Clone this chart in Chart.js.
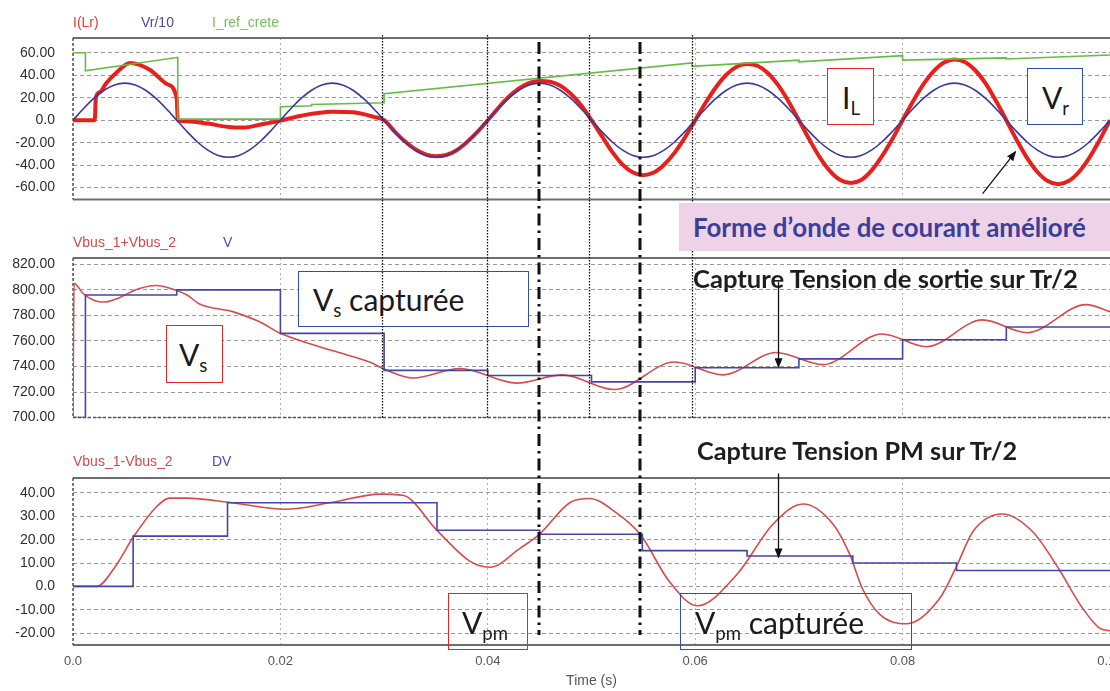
<!DOCTYPE html>
<html>
<head>
<meta charset="utf-8">
<script src="https://cdn.jsdelivr.net/npm/chart.js@4.4.1/dist/chart.umd.min.js"></script>
<style>
  html, body { margin: 0; padding: 0; background: #fff; }
  body { width: 1110px; height: 691px; overflow: hidden; position: relative; font-family: "Liberation Sans", Arial, sans-serif; }
  canvas { position: absolute; left: 0; z-index: 0; }
  .lg { position: absolute; font-size: 14px; line-height: 16px; white-space: nowrap; z-index: 1; }
  .box { position: absolute; box-sizing: border-box; background: #fff; border: 1.5px solid; display: flex; align-items: center;
         font-family: Lato, "Open Sans", sans-serif; font-size: 30px; color: #1a1a1a; white-space: nowrap; z-index: 2; }
  .box.clear { background: transparent; }
  .box .t { display: inline-block; line-height: 1; }
  .box sub { font-size: 0.62em; vertical-align: -0.32em; line-height: 0; }
  .red { border-color: #e8262a; }
  .blue { border-color: #2f4fa8; }
  #ovl { position: absolute; left: 0; top: 0; z-index: 3; pointer-events: none; }
  #pink { position: absolute; left: 679px; top: 203px; width: 460px; height: 48px; background: #eed3e8; z-index: 4;
          display: flex; align-items: center; }
  .note { position: absolute; display: flex; align-items: center; z-index: 5; }
  .note span, #pink span { font-family: Lato, "Open Sans", sans-serif; font-weight: 700; white-space: nowrap; font-size: 20px; }
</style>
</head>
<body>

<canvas id="c1" width="1140" height="226" style="top:0px"></canvas>
<canvas id="c2" width="1140" height="218" style="top:226px"></canvas>
<canvas id="c3" width="1140" height="247" style="top:444px"></canvas>

<div class="lg" style="left:73px; top:14px; color:#d9403a">I(Lr)</div>
<div class="lg" style="left:141px; top:14px; color:#4a4aa5">Vr/10</div>
<div class="lg" style="left:212px; top:14px; color:#74c25a">I_ref_crete</div>
<div class="lg" style="left:73px; top:234px; color:#d34a4a">Vbus_1+Vbus_2</div>
<div class="lg" style="left:223px; top:234px; color:#4b4bb0">V</div>
<div class="lg" style="left:73px; top:453px; color:#d34a4a">Vbus_1-Vbus_2</div>
<div class="lg" style="left:212px; top:453px; color:#4b4bb0">DV</div>

<div class="box red" style="left:827px; top:68px; width:47px; height:57px; padding-left:14px"><span class="t">I<sub>L</sub></span></div>
<div class="box blue" style="left:1027px; top:68px; width:56px; height:57px; padding-left:14px"><span class="t">V<sub>r</sub></span></div>
<div class="box blue" style="left:298px; top:271px; width:231px; height:56px; padding-left:14px"><span class="t">V<sub>s</sub> capturée</span></div>
<div class="box red" style="left:166px; top:325px; width:57px; height:58px; padding-left:12px"><span class="t">V<sub>s</sub></span></div>
<div class="box red clear" style="left:448px; top:593px; width:80px; height:57px; padding-left:13px"><span class="t">V<sub>pm</sub></span></div>
<div class="box blue clear" style="left:680px; top:593px; width:232px; height:57px; padding-left:14px"><span class="t">V<sub>pm</sub> capturée</span></div>

<svg id="ovl" width="1110" height="691" xmlns="http://www.w3.org/2000/svg">
  <defs>
    <marker id="ah" markerWidth="10" markerHeight="8" refX="9" refY="4" orient="auto" markerUnits="userSpaceOnUse">
      <path d="M0,0 L10,4 L0,8 z" fill="#111"></path>
    </marker>
  </defs>
</svg>

<div id="pink"><span data-w="393" style="margin-left:14px; color:#3b3f9a">Forme d’onde de courant amélioré</span></div>
<div class="note" style="left:693px; top:264px; height:28px"><span data-w="385" style="color:#1e1e1e">Capture Tension de sortie sur Tr/2</span></div>
<div class="note" style="left:697px; top:436px; height:28px"><span data-w="320" style="color:#1e1e1e">Capture Tension PM sur Tr/2</span></div>

<script>
// ---- panel 1 : I(Lr), Vr/10, I_ref_crete ----
const tIL = [0, 0.0021, 0.0022, 0.0026, 0.0032, 0.0042, 0.0055, 0.0074, 0.0091, 0.0100, 0.0101,
  0.011, 0.013, 0.015, 0.0165, 0.018, 0.0195, 0.0202, 0.022, 0.025, 0.027, 0.029, 0.030,
  0.031, 0.032, 0.033, 0.034, 0.035, 0.036, 0.037, 0.038, 0.039, 0.040,
  0.041, 0.042, 0.043, 0.044, 0.045, 0.046, 0.047, 0.048, 0.049, 0.050,
  0.051, 0.052, 0.053, 0.054, 0.055, 0.056, 0.057, 0.058, 0.059, 0.060,
  0.061, 0.062, 0.063, 0.064, 0.065, 0.066, 0.067, 0.068, 0.069, 0.070,
  0.071, 0.072, 0.073, 0.074, 0.075, 0.076, 0.077, 0.078, 0.079, 0.080,
  0.081, 0.082, 0.083, 0.084, 0.085, 0.086, 0.087, 0.088, 0.089, 0.090,
  0.091, 0.092, 0.093, 0.094, 0.095, 0.096, 0.097, 0.098, 0.099, 0.100];
const iL = [0, 0, 20, 25, 33, 42.5, 51, 45, 32, 19.5, 0,
  -1, -3, -6, -6.5, -4, -1.5, 0, 4, 7.5, 7, 3, 0,
  -9.9, -18.8, -25.9, -30.4, -32, -31, -26.7, -19.4, -10.5, 0,
  10.8, 20.6, 28.3, 33.3, 35, 34.2, 30.7, 23.5, 13.3, 0,
  -14.2, -28.2, -39.6, -46.6, -49, -46.6, -39.6, -29.1, -15.5, 0,
  15.5, 29.4, 40.5, 47.6, 50, 48.5, 42.1, 31.2, 16.7, 0,
  -17, -32.9, -45.3, -53.3, -56, -53.3, -44.9, -32.3, -17, 0,
  16.7, 31.8, 43.7, 51.4, 54, 51.8, 44.5, 32.9, 17.3, 0,
  -17.6, -33.5, -46.1, -54.2, -57, -54.2, -46.1, -33.5, -17.6, 0];

// Vr/10 sampled every 1 ms
const vr10 = [0, 10.2, 19.4, 26.7, 31.4, 33, 31.4, 26.7, 19.4, 10.2, 0, -10.2, -19.4, -26.7, -31.4, -33, -31.4, -26.7, -19.4, -10.2,
  0, 10.2, 19.4, 26.7, 31.4, 33, 31.4, 26.7, 19.4, 10.2, 0, -10.2, -19.4, -26.7, -31.4, -33, -31.4, -26.7, -19.4, -10.2,
  0, 10.2, 19.4, 26.7, 31.4, 33, 31.4, 26.7, 19.4, 10.2, 0, -10.2, -19.4, -26.7, -31.4, -33, -31.4, -26.7, -19.4, -10.2,
  0, 10.2, 19.4, 26.7, 31.4, 33, 31.4, 26.7, 19.4, 10.2, 0, -10.2, -19.4, -26.7, -31.4, -33, -31.4, -26.7, -19.4, -10.2,
  0, 10.2, 19.4, 26.7, 31.4, 33, 31.4, 26.7, 19.4, 10.2, 0, -10.2, -19.4, -26.7, -31.4, -33, -31.4, -26.7, -19.4, -10.2,
  0];

const tRef = [0, 0.0012, 0.0012, 0.0101, 0.0101, 0.02, 0.02, 0.023, 0.023, 0.03, 0.03, 0.0597, 0.0597,
  0.07, 0.07, 0.08, 0.08, 0.09, 0.09, 0.1];
const iRef = [60, 60, 44, 56, 1, 1, 12, 12.8, 14, 15.5, 23.5, 51, 48, 53.5, 52, 57.5, 53.5, 55.5, 54.5, 58];

// ---- panel 2 : Vbus_1+Vbus_2, V ----
const tVs = [0, 0.0001, 0.001, 0.002, 0.003, 0.0045, 0.006, 0.008, 0.0095, 0.011, 0.0122, 0.0154, 0.018, 0.02,
  0.025, 0.0286, 0.030, 0.0328, 0.0373, 0.0428, 0.0472, 0.0522, 0.058, 0.0627, 0.0678, 0.0723, 0.078, 0.0823,
  0.0877, 0.092, 0.0977, 0.1];
const vs = [700, 805, 797, 792, 790.5, 794, 800, 803.5, 801, 796, 789, 783, 775, 766,
  752.5, 743.5, 738, 731, 738.5, 727, 733.5, 722, 743.5, 733.5, 751, 741.5, 765.5, 755.5,
  776.5, 766.5, 788.5, 783];
const tV = [0, 0.0012, 0.01, 0.02, 0.03, 0.04, 0.05, 0.06, 0.07, 0.08, 0.09, 0.1];
const vCap = [700, 796, 800, 766, 737, 733, 728, 739, 746, 761, 771, 771];

// ---- panel 3 : Vbus_1-Vbus_2, DV ----
const tPm = [0, 0.0023, 0.004, 0.0058, 0.0081, 0.0093, 0.011, 0.015, 0.0205, 0.025, 0.0296, 0.0318, 0.0351,
  0.0383, 0.0402, 0.0431, 0.045, 0.0479, 0.0498, 0.0524, 0.0547, 0.0575, 0.0602, 0.064, 0.0675, 0.0704,
  0.0733, 0.0749, 0.0761, 0.0778, 0.0804, 0.0836, 0.0852, 0.0868, 0.0896, 0.0925, 0.0951, 0.0971, 0.099, 0.1];
const vPm = [0, 0, 8, 21, 34.3, 37.8, 37.8, 36, 33, 36, 39.5, 39, 24,
  10.7, 8.2, 16.3, 22.4, 35.8, 37.6, 31.5, 22.3, 2.1, -8.3, 5, 26.6, 35.3,
  26.6, 13.7, -0.7, -12, -16, -5, 8.6, 23.6, 31, 23.6, 7.2, -7.7, -17.9, -19];
const tDV = [0, 0.0058, 0.0149, 0.0351, 0.045, 0.0549, 0.065, 0.0752, 0.0852, 0.1];
const vDV = [0, 21.5, 35.8, 24, 22.3, 15.3, 13, 10, 6.8, 6.8];

// capture instants (dotted) and PM capture instants (dash-dot)
const capT = [0.0298, 0.0399, 0.0498, 0.0597];
const pmT = [0.0449, 0.0547];

const pts = (ts, vals) => ts.map((t, i) => ({ x: t, y: vals[i] }));
const tMs = vr10.map((_, i) => i / 1000);

const framePlugin = {
  id: 'frame',
  beforeDatasetsDraw(chart, args, opts) {
    const { ctx, chartArea: a } = chart;
    ctx.save();
    ctx.strokeStyle = '#6e6e6e';
    ctx.lineWidth = 2;
    ctx.beginPath();
    ctx.moveTo(a.left, a.top); ctx.lineTo(a.right, a.top);
    if (!opts.dashedBottom) { ctx.moveTo(a.left, a.bottom); ctx.lineTo(a.right, a.bottom); }
    ctx.stroke();
    ctx.strokeStyle = '#555';
    ctx.lineWidth = 1.5;
    ctx.setLineDash([3, 2]);
    ctx.beginPath();
    ctx.moveTo(a.left, a.top); ctx.lineTo(a.left, a.bottom);
    if (opts.dashedBottom) { ctx.moveTo(a.left, a.bottom); ctx.lineTo(a.right, a.bottom); }
    ctx.stroke();
    ctx.restore();
  }
};

const xFont = { family: '"Liberation Sans", Arial, sans-serif', size: 13 };
const yFont = { family: '"Liberation Sans", Arial, sans-serif', size: 14 };

function panel(id, datasets, o) {
  return new Chart(document.getElementById(id), {
    type: 'line',
    data: { datasets },
    options: {
      responsive: false,
      animation: false,
      devicePixelRatio: 1,
      layout: { padding: { top: o.top, bottom: o.bottom, left: 0, right: 30 } },
      elements: { point: { radius: 0 } },
      plugins: { legend: { display: false }, tooltip: { enabled: false }, frame: { dashedBottom: !!o.dashedBottom } },
      scales: {
        x: {
          type: 'linear', min: 0, max: 0.1,
          ticks: {
            display: !!o.xLabels, stepSize: 0.02, padding: 9, color: '#555', font: xFont,
            callback: v => Math.abs(v) < 1e-9 ? '0.0' : v.toFixed(2)
          },
          title: { display: !!o.xLabels, text: 'Time (s)', color: '#555', font: yFont, padding: { top: 0, bottom: 1 } },
          grid: { color: '#b0b0b0', lineWidth: 1, drawTicks: false },
          border: { display: false, dash: [2, 3] },
          afterFit(s) { s.height = o.xLabels ? 46 : 0; }
        },
        y: {
          min: o.min, max: o.max,
          ticks: {
            stepSize: o.step, includeBounds: false, padding: 18, color: '#2e2e2e', font: yFont,
            callback: v => v === 0 ? '0.0' : v.toFixed(2)
          },
          grid: { color: '#999', lineWidth: 1, drawTicks: false },
          border: { display: false, dash: [4, 3] },
          afterFit(s) { s.width = 73; }
        }
      }
    },
    plugins: [framePlugin]
  });
}

const c1 = panel('c1', [
  { data: pts(tMs, vr10), borderColor: '#3a3aa0', borderWidth: 1.6, cubicInterpolationMode: 'monotone' },
  { data: pts(tRef, iRef), borderColor: '#66bb44', borderWidth: 1.6 },
  { data: pts(tIL, iL), borderColor: '#e8201c', borderWidth: 4, cubicInterpolationMode: 'monotone' }
], { top: 38, bottom: 13, min: -70.7, max: 73.2, step: 20 });

const c2 = panel('c2', [
  { data: pts(tV, vCap), borderColor: '#4545a5', borderWidth: 1.6, stepped: true },
  { data: pts(tVs, vs), borderColor: '#d84b4b', borderWidth: 1.6, cubicInterpolationMode: 'monotone' }
], { top: 32, bottom: 11, min: 700, max: 825, step: 20, dashedBottom: true });

const c3 = panel('c3', [
  { data: pts(tDV, vDV), borderColor: '#4545a5', borderWidth: 1.6, stepped: true },
  { data: pts(tPm, vPm), borderColor: '#d84b4b', borderWidth: 1.6, cubicInterpolationMode: 'monotone' }
], { top: 34, bottom: 0, min: -25.1, max: 46.4, step: 10, xLabels: true });

// ---- overlay: capture markers and arrows ----
const svg = document.getElementById('ovl');
const NS = 'http://www.w3.org/2000/svg';
const X = t => c1.scales.x.getPixelForValue(t);
const Y = (c, off, v) => off + c.scales.y.getPixelForValue(v);

function line(x1, y1, x2, y2, attrs) {
  const l = document.createElementNS(NS, 'line');
  l.setAttribute('x1', x1); l.setAttribute('y1', y1);
  l.setAttribute('x2', x2); l.setAttribute('y2', y2);
  for (const k in attrs) l.setAttribute(k, attrs[k]);
  svg.appendChild(l);
}

capT.forEach(t => {
  const x = Math.round(X(t)) + 0.5;
  line(x, c1.chartArea.top - 3, x, 226 + c2.chartArea.bottom,
    { stroke: '#111', 'stroke-width': 1.3, 'stroke-dasharray': '1.5 1.5' });
});
pmT.forEach(t => {
  const x = Math.round(X(t));
  line(x, c1.chartArea.top + 4, x, 444 + c3.chartArea.bottom - 10,
    { stroke: '#111', 'stroke-width': 3, 'stroke-dasharray': '12 5 2.5 5' });
});

const arrow = { stroke: '#111', 'stroke-width': 1.3, 'marker-end': 'url(#ah)' };
let ax = X(0.0909), ay = Y(c1, 0, -28);
line(ax - 33, ay + 42, ax, ay, arrow);
ax = Math.round(X(0.068)) + 0.5; ay = Y(c2, 226, 739.5);
line(ax, ay - 85, ax, ay, arrow);
ay = Y(c3, 444, 12.4);
line(ax, ay - 84, ax, ay, arrow);

// fit the bold notes to their measured widths
document.querySelectorAll('span[data-w]').forEach(el => {
  const w = el.getBoundingClientRect().width;
  const fs = parseFloat(getComputedStyle(el).fontSize);
  el.style.fontSize = (fs * (+el.dataset.w) / w).toFixed(2) + 'px';
});
</script>
</body>
</html>
